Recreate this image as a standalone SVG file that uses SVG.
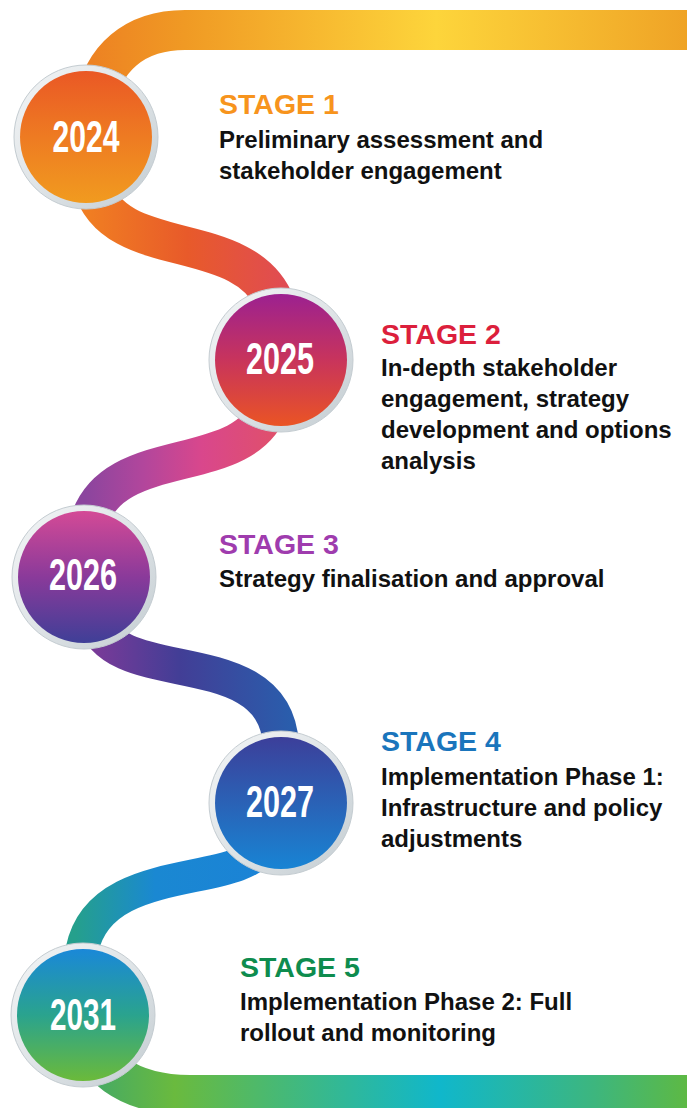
<svg xmlns="http://www.w3.org/2000/svg" width="687" height="1108" viewBox="0 0 687 1108">
  <defs>
    <style>
      .road { fill: none; stroke-linecap: butt; stroke-linejoin: round; }
      .stage { font-family: "Liberation Sans", Arial, sans-serif; font-weight: bold; font-size: 28.5px; }
      .desc { font-family: "Liberation Sans", Arial, sans-serif; font-weight: bold; font-size: 24px; fill: #111111; }
      .year { font-family: "Liberation Sans", Arial, sans-serif; font-weight: bold; font-size: 45px; fill: #ffffff; text-anchor: middle; }
      .ring { fill: url(#ringGrad); stroke: #c4ccd1; stroke-width: 1; }
    </style>

    <!-- road colour bands -->
    <linearGradient id="roadTop" gradientUnits="userSpaceOnUse" x1="60" y1="0" x2="687" y2="0">
      <stop offset="0" stop-color="#ec7a22"/>
      <stop offset="0.2" stop-color="#f09a24"/>
      <stop offset="0.6" stop-color="#fdd53b"/>
      <stop offset="1" stop-color="#efa326"/>
    </linearGradient>
    <linearGradient id="road1" gradientUnits="userSpaceOnUse" x1="90" y1="0" x2="285" y2="0">
      <stop offset="0" stop-color="#f07d22"/>
      <stop offset="0.5" stop-color="#e85a2a"/>
      <stop offset="1" stop-color="#e04c52"/>
    </linearGradient>
    <linearGradient id="road2" gradientUnits="userSpaceOnUse" x1="85" y1="0" x2="280" y2="0">
      <stop offset="0" stop-color="#8b459e"/>
      <stop offset="0.3" stop-color="#b2469c"/>
      <stop offset="0.6" stop-color="#d9478c"/>
      <stop offset="1" stop-color="#e0506a"/>
    </linearGradient>
    <linearGradient id="road3" gradientUnits="userSpaceOnUse" x1="90" y1="0" x2="290" y2="0">
      <stop offset="0" stop-color="#7c3a98"/>
      <stop offset="0.45" stop-color="#423e96"/>
      <stop offset="1" stop-color="#2a5dac"/>
    </linearGradient>
    <linearGradient id="road4" gradientUnits="userSpaceOnUse" x1="75" y1="0" x2="275" y2="0">
      <stop offset="0" stop-color="#25a08c"/>
      <stop offset="0.4" stop-color="#1a88d2"/>
      <stop offset="1" stop-color="#1b82d6"/>
    </linearGradient>
    <linearGradient id="roadBottom" gradientUnits="userSpaceOnUse" x1="70" y1="0" x2="687" y2="0">
      <stop offset="0" stop-color="#3aa570"/>
      <stop offset="0.17" stop-color="#6aba3e"/>
      <stop offset="0.6" stop-color="#10b7cb"/>
      <stop offset="0.85" stop-color="#3db67e"/>
      <stop offset="1" stop-color="#5db944"/>
    </linearGradient>

    <!-- milestone discs -->
    <linearGradient id="ringGrad" x1="0" y1="0" x2="1" y2="1">
      <stop offset="0" stop-color="#f3f5f6"/>
      <stop offset="0.5" stop-color="#dfe4e7"/>
      <stop offset="1" stop-color="#c3ccd1"/>
    </linearGradient>
    <linearGradient id="disc1" x1="0" y1="0" x2="0" y2="1">
      <stop offset="0" stop-color="#ea5825"/>
      <stop offset="0.5" stop-color="#ee7b22"/>
      <stop offset="1" stop-color="#f19b1f"/>
    </linearGradient>
    <linearGradient id="disc2" x1="0" y1="0" x2="0" y2="1">
      <stop offset="0" stop-color="#9c2190"/>
      <stop offset="0.5" stop-color="#c8345c"/>
      <stop offset="1" stop-color="#ea5424"/>
    </linearGradient>
    <linearGradient id="disc3" x1="0" y1="0" x2="0" y2="1">
      <stop offset="0" stop-color="#d44a96"/>
      <stop offset="0.5" stop-color="#8a3a9a"/>
      <stop offset="1" stop-color="#3f3f97"/>
    </linearGradient>
    <linearGradient id="disc4" x1="0" y1="0" x2="0" y2="1">
      <stop offset="0" stop-color="#3c3f9a"/>
      <stop offset="0.5" stop-color="#2a62b6"/>
      <stop offset="1" stop-color="#1884d4"/>
    </linearGradient>
    <linearGradient id="disc5" x1="0" y1="0" x2="0" y2="1">
      <stop offset="0" stop-color="#1a88d8"/>
      <stop offset="0.5" stop-color="#2aa38e"/>
      <stop offset="1" stop-color="#6bba3a"/>
    </linearGradient>
  </defs>

  <rect width="687" height="1108" fill="#ffffff"/>

  <!-- winding road linking the milestones -->
  <g id="connectors">
    <path class="road" stroke="url(#roadTop)" stroke-width="40" d="M 700,30 H 185 C 135,30 102,58 95,105 L 86,137"/>
    <path class="road" stroke="url(#road1)" stroke-width="39" d="M 85,137 L 92,185 C 115,265 245,225 276,305 L 281,360"/>
    <path class="road" stroke="url(#road2)" stroke-width="38" d="M 281,360 L 270,405 C 245,480 110,440 88,525 L 84,577"/>
    <path class="road" stroke="url(#road3)" stroke-width="36" d="M 84,577 L 95,620 C 115,690 275,640 281,745 L 281,803"/>
    <path class="road" stroke="url(#road4)" stroke-width="33" d="M 281,803 L 265,845 C 240,890 100,860 82,950 L 82,1015"/>
    <path class="road" stroke="url(#roadBottom)" stroke-width="40" d="M 82,1015 C 88,1068 130,1095 190,1095 H 700"/>
  </g>

  <g id="stage1">
    <circle class="ring" cx="86" cy="137" r="72"/>
    <circle cx="86" cy="137" r="66" fill="url(#disc1)"/>
    <text class="year" x="86" y="152" textLength="67" lengthAdjust="spacingAndGlyphs">2024</text>
    <text class="stage" x="219" y="114" fill="#f7941d">STAGE 1</text>
    <text class="desc" x="219" y="148">Preliminary assessment and</text>
    <text class="desc" x="219" y="179">stakeholder engagement</text>
  </g>

  <g id="stage2">
    <circle class="ring" cx="281" cy="360" r="72"/>
    <circle cx="281" cy="360" r="66" fill="url(#disc2)"/>
    <text class="year" x="280" y="374" textLength="68" lengthAdjust="spacingAndGlyphs">2025</text>
    <text class="stage" x="381" y="344" fill="#dc1f3c">STAGE 2</text>
    <text class="desc" x="381" y="376">In-depth stakeholder</text>
    <text class="desc" x="381" y="407">engagement, strategy</text>
    <text class="desc" x="381" y="438">development and options</text>
    <text class="desc" x="381" y="469">analysis</text>
  </g>

  <g id="stage3">
    <circle class="ring" cx="84" cy="577" r="72"/>
    <circle cx="84" cy="577" r="66" fill="url(#disc3)"/>
    <text class="year" x="83" y="590" textLength="68" lengthAdjust="spacingAndGlyphs">2026</text>
    <text class="stage" x="219" y="554" fill="#9f3cae">STAGE 3</text>
    <text class="desc" x="219" y="587">Strategy finalisation and approval</text>
  </g>

  <g id="stage4">
    <circle class="ring" cx="281" cy="803" r="72"/>
    <circle cx="281" cy="803" r="66" fill="url(#disc4)"/>
    <text class="year" x="280" y="817" textLength="68" lengthAdjust="spacingAndGlyphs">2027</text>
    <text class="stage" x="381" y="751" fill="#1a75bc">STAGE 4</text>
    <text class="desc" x="381" y="785">Implementation Phase 1:</text>
    <text class="desc" x="381" y="816">Infrastructure and policy</text>
    <text class="desc" x="381" y="847">adjustments</text>
  </g>

  <g id="stage5">
    <circle class="ring" cx="83" cy="1015" r="72"/>
    <circle cx="83" cy="1015" r="66" fill="url(#disc5)"/>
    <text class="year" x="83" y="1030" textLength="66" lengthAdjust="spacingAndGlyphs">2031</text>
    <text class="stage" x="240" y="977" fill="#0e8c4e">STAGE 5</text>
    <text class="desc" x="240" y="1010">Implementation Phase 2: Full</text>
    <text class="desc" x="240" y="1041">rollout and monitoring</text>
  </g>
</svg>
